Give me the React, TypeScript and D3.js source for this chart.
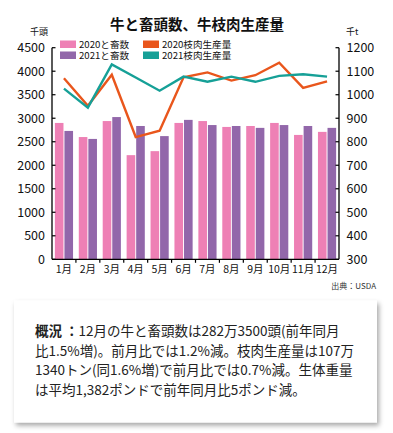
import React from "react";
import * as d3 from "d3";

const months = ["1月","2月","3月","4月","5月","6月","7月","8月","9月","10月","11月","12月"];
const slaughter2020 = [2900, 2600, 2940, 2215, 2300, 2900, 2940, 2815, 2835, 2900, 2645, 2710];
const slaughter2021 = [2730, 2560, 3025, 2835, 2620, 2965, 2855, 2835, 2795, 2855, 2835, 2795];
const beef2020 = [1070, 953, 1085, 820, 847, 1074, 1095, 1060, 1083, 1136, 1029, 1057];
const beef2021 = [1026, 945, 1129, 1073, 1017, 1077, 1055, 1077, 1055, 1080, 1087, 1077];
const leftTicks = [0, 500, 1000, 1500, 2000, 2500, 3000, 3500, 4000, 4500];
const rightTicks = [300, 400, 500, 600, 700, 800, 900, 1000, 1100, 1200];
const legendItems = [
  { label: "2020と畜数", color: "#EE80B5" },
  { label: "2021と畜数", color: "#9267AA" },
  { label: "2020枝肉生産量", color: "#E9561C" },
  { label: "2021枝肉生産量", color: "#16A097" },
];
const summaryLines = [
  "12月の牛と畜頭数は282万3500頭(前年同月",
  "比1.5%増)。前月比では1.2%減。枝肉生産量は107万",
  "1340トン(同1.6%増)で前月比では0.7%減。生体重量",
  "は平均1,382ポンドで前年同月比5ポンド減。",
];

const FONT = "'Noto Sans CJK JP', 'Noto Sans', sans-serif";

export default function App() {
  const W = 393, H = 433;
  const left = 52, right = 339, top = 47.7, bottom = 259.3;
  const x = d3.scaleBand<string>().domain(months).range([left, right]).padding(0);
  const sub = d3.scaleBand<string>().domain(["a", "b"]).range([0, x.step()]).paddingInner(0.1).paddingOuter(0.3);
  const yL = d3.scaleLinear().domain([0, 4500]).range([bottom, top]);
  const yR = d3.scaleLinear().domain([300, 1200]).range([bottom, top]);
  const cx = (m: string) => (x(m) as number) + x.bandwidth() / 2;
  const line = (vals: number[]) =>
    d3.line<number>().x((_, i) => cx(months[i])).y((v) => yR(v))(vals) as string;

  return (
    <svg width={W} height={H} style={{ position: "absolute", left: 0, top: 0, display: "block", background: "#fff" }} fontFamily={FONT}>
      <defs>
        <filter id="sh" x="-10%" y="-10%" width="130%" height="140%">
          <feDropShadow dx="2" dy="3" stdDeviation="2.5" floodColor="#000" floodOpacity="0.35" />
        </filter>
      </defs>
      {/* title */}
      <text x={197} y={30} textAnchor="middle" fontSize={14.5} fontWeight="bold" fill="#111">牛と畜頭数、牛枝肉生産量</text>
      <text x={30} y={34.5} fontSize={9} fill="#111">千頭</text>
      <text x={346} y={34.5} fontSize={9} fill="#111">千t</text>

      {/* legend */}
      {legendItems.map((it, i) => {
        const col = Math.floor(i / 2), row = i % 2;
        const lx = 60 + col * 83, ly = 40.5 + row * 11;
        return (
          <g key={it.label}>
            <rect x={lx} y={ly} width={16} height={7.5} fill={it.color} />
            <text x={lx + 19} y={ly + 7.3} fontSize={9.6} fill="#111">{it.label}</text>
          </g>
        );
      })}

      {/* bars */}
      {months.map((m, i) => (
        <g key={m}>
          <rect x={(x(m) as number) + (sub("a") as number)} y={yL(slaughter2020[i])} width={sub.bandwidth()} height={bottom - yL(slaughter2020[i])} fill="#EE80B5" />
          <rect x={(x(m) as number) + (sub("b") as number)} y={yL(slaughter2021[i])} width={sub.bandwidth()} height={bottom - yL(slaughter2021[i])} fill="#9267AA" />
        </g>
      ))}

      {/* lines */}
      <path d={line(beef2020)} fill="none" stroke="#E9561C" strokeWidth={2.4} strokeLinejoin="miter" />
      <path d={line(beef2021)} fill="none" stroke="#16A097" strokeWidth={2.4} strokeLinejoin="miter" />

      {/* axes */}
      <line x1={left} x2={left} y1={top} y2={bottom} stroke="#000" strokeWidth={1.3} />
      <line x1={right} x2={right} y1={top} y2={bottom} stroke="#000" strokeWidth={1.3} />
      <line x1={left} x2={right} y1={bottom} y2={bottom} stroke="#000" strokeWidth={1.3} />
      {leftTicks.map((t) => (
        <g key={"l" + t}>
          <line x1={left} x2={left + 3.5} y1={yL(t)} y2={yL(t)} stroke="#000" strokeWidth={1.2} />
          <text x={45} y={yL(t) + 4.5} textAnchor="end" fontSize={12.5} fill="#111">{t}</text>
        </g>
      ))}
      {rightTicks.map((t) => (
        <g key={"r" + t}>
          <line x1={right - 3.5} x2={right} y1={yR(t)} y2={yR(t)} stroke="#000" strokeWidth={1.2} />
          <text x={346.5} y={yR(t) + 4.5} textAnchor="start" fontSize={12.5} fill="#111">{t}</text>
        </g>
      ))}
      {months.map((m, i) => (
        <g key={"b" + m}>
          {i > 0 && <line x1={x(m) as number} x2={x(m) as number} y1={bottom} y2={bottom + 3.5} stroke="#000" strokeWidth={1.2} />}
          <text x={cx(m)} y={bottom + 14} textAnchor="middle" fontSize={10.5} fill="#111">{m}</text>
        </g>
      ))}
      <text x={376} y={289} textAnchor="end" fontSize={8} fill="#333">出典：USDA</text>

      {/* summary box */}
      <rect x={14} y={300.5} width={363} height={122} fill="#fff" filter="url(#sh)" />
      <text fontSize={13.5} fill="#222">
        {summaryLines.map((l, i) => (
          <tspan key={i} x={35} y={336 + i * 19.5}>
            {i === 0 && <tspan fontWeight="bold">概況 ：</tspan>}
            {l}
          </tspan>
        ))}
      </text>
    </svg>
  );
}
